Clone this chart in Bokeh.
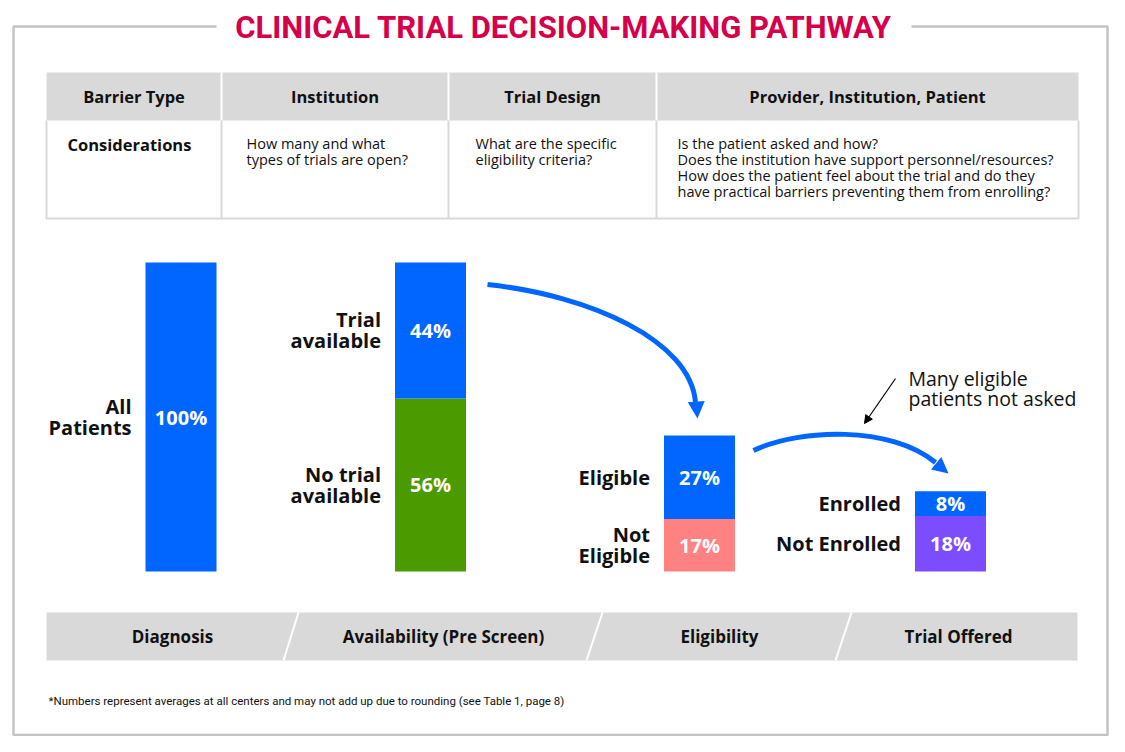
from bokeh.plotting import figure
from bokeh.models import Range1d, Arrow, NormalHead
from bokeh.core.properties import value
from bokeh.embed import file_html
from bokeh.resources import INLINE

# ---------------- data ----------------
title_text = "CLINICAL TRIAL DECISION-MAKING PATHWAY"
table_headers = ["Barrier Type", "Institution", "Trial Design", "Provider, Institution, Patient"]
table_row_label = "Considerations"
table_considerations = [
    "How many and what\ntypes of trials are open?",
    "What are the specific\neligibility criteria?",
    "Is the patient asked and how?\nDoes the institution have support personnel/resources?\n"
    "How does the patient feel about the trial and do they\nhave practical barriers preventing them from enrolling?",
]
stages = ["Diagnosis", "Availability (Pre Screen)", "Eligibility", "Trial Offered"]

# stacked segments per stage, bottom to top
diagnosis_labels = ["All\nPatients"]
diagnosis_values = [100]
availability_labels = ["No trial\navailable", "Trial\navailable"]
availability_values = [56, 44]
eligibility_labels = ["Not\nEligible", "Eligible"]
eligibility_values = [17, 27]
offered_labels = ["Not Enrolled", "Enrolled"]
offered_values = [18, 8]

annotation_text = "Many eligible\npatients not asked"
footnote = "*Numbers represent averages at all centers and may not add up due to rounding (see Table 1, page 8)"

# ---------------- styles / layout ----------------
BLUE = "#0066ff"
GREEN = "#4a9a00"
SALMON = "#ff8282"
PURPLE = "#7c4dff"
RED = "#d6004a"
GRAY = "#d9d9d9"
BORDER = "#c4c4c4"
INK = "#111111"
FONT = value("Open Sans")
TFONT = value("Roboto")

stage_colors = [[BLUE], [GREEN, BLUE], [SALMON, BLUE], [PURPLE, BLUE]]
stage_values = [diagnosis_values, availability_values, eligibility_values, offered_values]
stage_labels = [diagnosis_labels, availability_labels, eligibility_labels, offered_labels]
bar_centers = [180.5, 430, 699, 950]
bar_width = 71
stage_text_x = [172, 443, 719, 958]

BASE_Y, TOP_Y = 571, 262  # pixel positions of 0% and 100%
k = (BASE_Y - TOP_Y) / 100.0

W, H = 1109, 736
p = figure(width=W, height=H, x_range=Range1d(0, W), y_range=Range1d(H, 0),
           output_backend="svg", toolbar_location=None, min_border=0)
p.axis.visible = False
p.grid.visible = False
p.outline_line_color = None
p.background_fill_color = "white"
p.border_fill_color = "white"
p.extra_y_ranges = {"pct": Range1d(start=-(H - BASE_Y) / k, end=BASE_Y / k)}

# ---------------- frame + title ----------------
p.line([216, 13, 13, 1107, 1107, 911], [26, 26, 734.5, 734.5, 26, 26], line_color=BORDER, line_width=2.5)
p.text(x=[563], y=[27], text=[title_text], text_font=TFONT, text_font_style="bold",
       text_font_size="31px", text_color=RED, text_align="center", text_baseline="middle")

# ---------------- table ----------------
col_edges = [46, 221, 448, 656, 1078]
p.quad(left=[46], right=[1078], top=[72], bottom=[120], fill_color=GRAY, line_color=None)
p.segment(x0=col_edges[1:4], y0=[72] * 3, x1=col_edges[1:4], y1=[120] * 3, line_color="white", line_width=2)
p.segment(x0=col_edges[1:4], y0=[120] * 3, x1=col_edges[1:4], y1=[218] * 3, line_color=GRAY, line_width=2)
p.line([46, 46, 1078, 1078], [120, 218, 218, 120], line_color=GRAY, line_width=2)
hx = [(col_edges[i] + col_edges[i + 1]) / 2 for i in range(4)]
p.text(x=hx, y=[96] * 4, text=table_headers, text_font=FONT, text_font_style="bold",
       text_font_size="16.5px", text_color=INK, text_align="center", text_baseline="middle")
p.text(x=[67], y=[144], text=[table_row_label], text_font=FONT, text_font_style="bold",
       text_font_size="16.5px", text_color=INK, text_align="left", text_baseline="middle")
p.text(x=[246, 475, 677], y=[133] * 3, text=table_considerations, text_font=FONT,
       text_font_size="14.5px", text_color=INK, text_align="left", text_baseline="top",
       text_line_height=0.85)

# ---------------- bars ----------------
for xc, vals, cols, labs in zip(bar_centers, stage_values, stage_colors, stage_labels):
    bottoms = [sum(vals[:i]) for i in range(len(vals))]
    tops = [b + v for b, v in zip(bottoms, vals)]
    mids = [(b + t) / 2 for b, t in zip(bottoms, tops)]
    p.vbar(x=[xc] * len(vals), width=bar_width, bottom=bottoms, top=tops, fill_color=cols,
           line_color=None, y_range_name="pct")
    p.text(x=[xc] * len(vals), y=mids, text=[f"{v}%" for v in vals], y_range_name="pct",
           text_font=FONT, text_font_style="bold", text_font_size="20px", text_color="white",
           text_align="center", text_baseline="middle")
    p.text(x=[xc - bar_width / 2 - 14] * len(vals), y=mids, text=labs, y_range_name="pct",
           text_font=FONT, text_font_style="bold", text_font_size="20px", text_color=INK,
           text_align="right", text_baseline="middle", text_line_height=0.78)

# ---------------- arrows ----------------
p.bezier(x0=[487], y0=[284], x1=[695], y1=[402], cx0=[590], cy0=[295], cx1=[690], cy1=[340],
         line_color=BLUE, line_width=5)
p.add_layout(Arrow(end=NormalHead(size=17, fill_color=BLUE, line_color=BLUE, line_width=0),
                   x_start=695.5, y_start=398, x_end=697, y_end=418, line_alpha=0))
p.bezier(x0=[753], y0=[450], x1=[935], y1=[462], cx0=[800], cy0=[428], cx1=[890], cy1=[425],
         line_color=BLUE, line_width=5)
p.add_layout(Arrow(end=NormalHead(size=16, fill_color=BLUE, line_color=BLUE, line_width=0),
                   x_start=930, y_start=458, x_end=948, y_end=473, line_alpha=0))
p.add_layout(Arrow(end=NormalHead(size=8, fill_color="black", line_color="black", line_width=1),
                   x_start=895, y_start=378, x_end=864, y_end=423, line_color="black", line_width=1.2))
p.text(x=[908], y=[388], text=[annotation_text], text_font=FONT, text_font_size="19.5px",
       text_color=INK, text_align="left", text_baseline="middle", text_line_height=0.76)

# ---------------- stage band ----------------
p.quad(left=[46], right=[1077], top=[612], bottom=[660], fill_color=GRAY, line_color=None)
p.segment(x0=[298, 602, 851], y0=[612] * 3, x1=[283, 586, 835], y1=[660] * 3,
          line_color="white", line_width=2)
p.text(x=stage_text_x, y=[636] * 4, text=stages, text_font=FONT, text_font_style="bold",
       text_font_size="17px", text_color=INK, text_align="center", text_baseline="middle")

p.text(x=[48], y=[700], text=[footnote], text_font=TFONT, text_font_size="11.5px",
       text_color=INK, text_align="left", text_baseline="middle")

open("out.html", "w").write(file_html(p, INLINE))
